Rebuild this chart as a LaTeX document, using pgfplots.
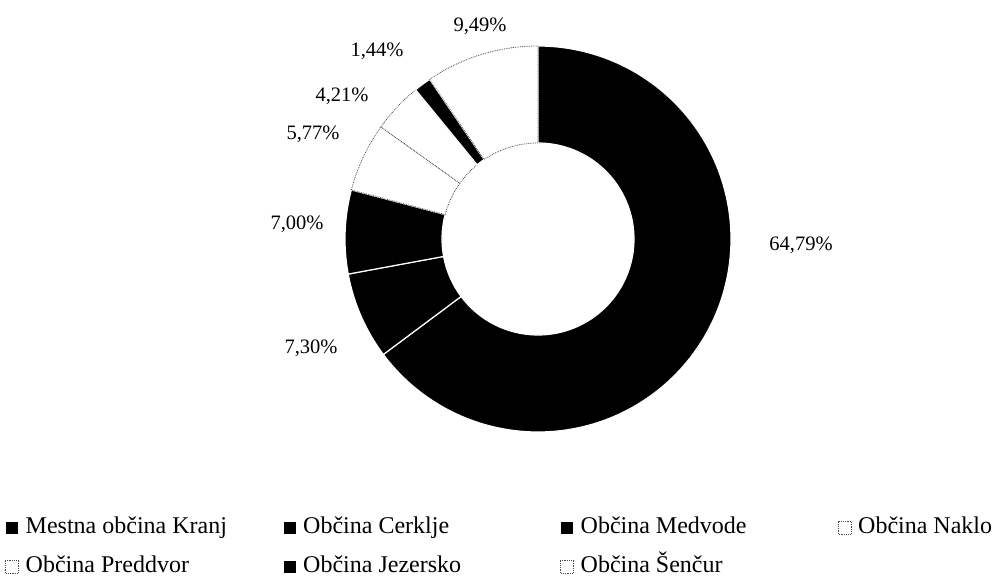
\documentclass[border=0pt]{standalone}
\usepackage{pgfplots}
\pgfplotsset{compat=1.18}
\usepackage{pgfplotstable}
\usepackage{fontspec}
\setmainfont{Liberation Serif}

\pgfplotstableread[col sep=comma]{
name,value
Mestna občina Kranj,64.79
Občina Cerklje,7.30
Občina Medvode,7.00
Občina Naklo,5.77
Občina Preddvor,4.21
Občina Jezersko,1.44
Občina Šenčur,9.49
}\datatable

\pgfplotsset{
  segblack/.style={fill=black, draw=white, line width=1.2pt, solid, mark=none},
  segwhite/.style={fill=white, draw=black!70, densely dotted, line width=0.8pt, mark=none},
}

\begin{document}
\begin{tikzpicture}
\begin{axis}[
  scale only axis, width=997pt, height=577pt,
  xmin=0, xmax=997, ymin=0, ymax=577, y dir=reverse,
  hide axis, clip=false,
  cycle list={{segblack},{segblack},{segblack},{segwhite},{segwhite},{segblack},{segwhite}},
  legend image code/.code={\draw[#1, line width=0.5pt] (0pt,-6.5pt) rectangle (13pt,6.5pt);},
  legend columns=4,
  legend cell align=left,
  legend style={at={(axis cs:5,547)}, anchor=west, draw=none, fill=none,
    inner sep=0pt, row sep=16pt, font=\fontsize{24}{28}\selectfont,
    nodes={inner xsep=0pt, inner ysep=0pt, text height=17pt, text depth=6pt}},
]
\path (axis cs:0,0) rectangle (axis cs:997,577);
\pgfmathsetmacro\cum{0}
\pgfplotsforeachungrouped \i in {0,...,6}{%
  \pgfplotstablegetelem{\i}{value}\of\datatable
  \pgfmathsetmacro\val{\pgfplotsretval}%
  \pgfmathsetmacro\aS{90-3.6*\cum}%
  \pgfmathsetmacro\aE{90-3.6*(\cum+\val)}%
  \pgfmathsetmacro\cum{\cum+\val}%
  \pgfplotstablegetelem{\i}{name}\of\datatable
  \ifnum\i=3 \edef\ent{\noexpand\hspace*{7pt}\pgfplotsretval}\else\ifnum\i=6 \edef\ent{\noexpand\hspace*{7pt}\pgfplotsretval}\else\edef\ent{\noexpand\hspace*{7pt}\noexpand\makebox[257pt][l]{\pgfplotsretval}}\fi\fi
  \edef\temp{\noexpand\addplot+[domain=0:2,samples=397] ({538+(\noexpand\x<=1)*193*cos((\aS)+((\aE)-(\aS))*min(1,\noexpand\x/0.99))+(\noexpand\x>1)*96*cos((\aE)+((\aS)-(\aE))*max(0,min(1,(\noexpand\x-1.01)/0.98)))},{239-(\noexpand\x<=1)*193*sin((\aS)+((\aE)-(\aS))*min(1,\noexpand\x/0.99))-(\noexpand\x>1)*96*sin((\aE)+((\aS)-(\aE))*max(0,min(1,(\noexpand\x-1.01)/0.98)))}) -- cycle;
  \noexpand\addlegendentry{\unexpanded\expandafter{\ent}}}%
  \temp
}
\begin{scope}[every node/.style={font=\fontsize{20.5}{24}\selectfont}]
\node at (axis cs:801,245) {64,79\%};
\node at (axis cs:311,348) {7,30\%};
\node at (axis cs:297,224) {7,00\%};
\node at (axis cs:313,134) {5,77\%};
\node at (axis cs:342,96) {4,21\%};
\node at (axis cs:377,51) {1,44\%};
\node at (axis cs:480,26) {9,49\%};
\end{scope}
\end{axis}
\end{tikzpicture}
\end{document}
